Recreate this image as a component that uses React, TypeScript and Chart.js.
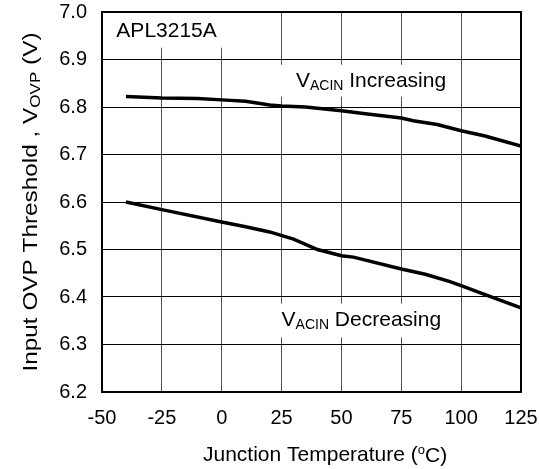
import React, { useEffect, useRef } from "react";
import { Chart, registerables } from "chart.js";

Chart.register(...registerables);

const FONT = "'Liberation Sans', Arial, Helvetica, sans-serif";

const xMin = -50;
const xMax = 125;
const xStep = 25;
const yMin = 6.2;
const yMax = 7.0;
const yStep = 0.1;

const incTemps = [-40, -25, -10, 0, 10, 20, 25, 35, 50, 60, 75, 80, 90, 100, 110, 125];
const incValues = [6.822, 6.819, 6.818, 6.815, 6.812, 6.804, 6.802, 6.8, 6.792, 6.786, 6.777, 6.771, 6.763, 6.75, 6.739, 6.718];

const decTemps = [-40, -25, 0, 10, 20, 30, 40, 50, 55, 75, 85, 95, 100, 110, 125];
const decValues = [6.6, 6.584, 6.558, 6.548, 6.537, 6.522, 6.5, 6.487, 6.484, 6.459, 6.448, 6.433, 6.424, 6.405, 6.377];

const partLabel = "APL3215A";
const incLabel = ["V", "ACIN", " Increasing"];
const decLabel = ["V", "ACIN", " Decreasing"];
const xTitle = ["Junction Temperature (", "o", "C)"];
const yTitle = ["Input OVP Threshold , V", "OVP", " (V)"];

function drawSubText(ctx: CanvasRenderingContext2D, parts: string[], x: number, y: number, big: number, small: number, subDy: number) {
  ctx.font = `${big}px ${FONT}`;
  ctx.fillText(parts[0], x, y);
  x += ctx.measureText(parts[0]).width;
  ctx.font = `${small}px ${FONT}`;
  ctx.fillText(parts[1], x, y + subDy);
  x += ctx.measureText(parts[1]).width;
  ctx.font = `${big}px ${FONT}`;
  ctx.fillText(parts[2], x, y);
}

function measureSub(ctx: CanvasRenderingContext2D, parts: string[], big: number, small: number) {
  ctx.font = `${big}px ${FONT}`;
  let w = ctx.measureText(parts[0]).width + ctx.measureText(parts[2]).width;
  ctx.font = `${small}px ${FONT}`;
  w += ctx.measureText(parts[1]).width;
  return w;
}

const overlayPlugin = {
  id: "overlay",
  beforeDatasetsDraw(chart: any) {
    const { ctx, scales } = chart;
    const x = scales.x;
    const y = scales.y;
    ctx.save();
    ctx.fillStyle = "#ffffff";
    const box = (x0: number, x1: number, y0: number, y1: number) => {
      const px0 = x.getPixelForValue(x0);
      const px1 = x.getPixelForValue(x1);
      const py0 = y.getPixelForValue(y0);
      const py1 = y.getPixelForValue(y1);
      ctx.fillRect(px0, py0, px1 - px0, py1 - py0);
    };
    box(-50, 1, 7.0, 6.925);
    box(24, 99, 6.889, 6.822);
    box(23.5, 97, 6.386, 6.315);

    ctx.fillStyle = "#000";
    ctx.textAlign = "left";
    ctx.textBaseline = "alphabetic";
    ctx.font = `21px ${FONT}`;
    ctx.fillText(partLabel, x.getPixelForValue(-44), y.getPixelForValue(6.948));
    drawSubText(ctx, incLabel, x.getPixelForValue(31), y.getPixelForValue(6.843), 21, 14, 3);
    drawSubText(ctx, decLabel, x.getPixelForValue(25), y.getPixelForValue(6.338), 21, 14, 3);
    ctx.restore();
  },
  afterDraw(chart: any) {
    const { ctx, chartArea } = chart;
    ctx.save();
    ctx.strokeStyle = "#000";
    ctx.lineWidth = 2;
    ctx.strokeRect(chartArea.left, chartArea.top, chartArea.right - chartArea.left, chartArea.bottom - chartArea.top);

    ctx.fillStyle = "#000";
    ctx.textAlign = "left";
    ctx.textBaseline = "alphabetic";
    // x title
    ctx.font = `21px ${FONT}`;
    let tx = 203;
    const ty = 461;
    ctx.fillText(xTitle[0], tx, ty);
    tx += ctx.measureText(xTitle[0]).width;
    ctx.font = `13px ${FONT}`;
    ctx.fillText(xTitle[1], tx, ty - 7);
    tx += ctx.measureText(xTitle[1]).width;
    ctx.font = `21px ${FONT}`;
    ctx.fillText(xTitle[2], tx, ty + 1);

    // y title (stretched along its length like the reference)
    const cy = (chartArea.top + chartArea.bottom) / 2;
    const w = measureSub(ctx, yTitle, 20, 14);
    const stretch = 339 / w;
    ctx.translate(37, cy);
    ctx.rotate(-Math.PI / 2);
    ctx.scale(stretch, 1);
    drawSubText(ctx, yTitle, -w / 2, 0, 20, 14, 3);
    ctx.restore();
  },
};

export default function App() {
  const ref = useRef<HTMLCanvasElement | null>(null);
  useEffect(() => {
    if (!ref.current) return;
    const chart = new Chart(ref.current, {
      type: "line",
      data: {
        datasets: [
          {
            label: "VACIN Increasing",
            data: incTemps.map((t, i) => ({ x: t, y: incValues[i] })),
            borderColor: "#000",
            borderWidth: 3.5,
            pointRadius: 0,
            tension: 0,
            fill: false,
          },
          {
            label: "VACIN Decreasing",
            data: decTemps.map((t, i) => ({ x: t, y: decValues[i] })),
            borderColor: "#000",
            borderWidth: 3.5,
            pointRadius: 0,
            tension: 0,
            fill: false,
          },
        ],
      },
      options: {
        animation: false,
        responsive: true,
        maintainAspectRatio: false,
        layout: { padding: { top: 12, right: 18, left: 0, bottom: 0 } },
        plugins: { legend: { display: false }, tooltip: { enabled: false }, title: { display: false } },
        scales: {
          x: {
            type: "linear",
            min: xMin,
            max: xMax,
            ticks: { stepSize: xStep, color: "#000", font: { family: FONT, size: 20 }, padding: 14, maxRotation: 0 },
            grid: { color: "#555", lineWidth: 1, drawTicks: false },
            border: { display: false },
            afterFit: (s: any) => {
              s.height = 77;
              s.paddingLeft = 0;
              s.paddingRight = 0;
              s.paddingTop = 0;
              s.paddingBottom = 0;
            },
          },
          y: {
            type: "linear",
            min: yMin,
            max: yMax,
            ticks: {
              stepSize: yStep,
              color: "#000",
              font: { family: FONT, size: 20 },
              padding: 15,
              callback: (v: any) => Number(v).toFixed(1),
            },
            grid: { color: "#000", lineWidth: 1, drawTicks: false },
            border: { display: false },
            afterFit: (s: any) => {
              s.width = 102;
              s.paddingLeft = 0;
              s.paddingRight = 0;
              s.paddingTop = 0;
              s.paddingBottom = 0;
            },
          },
        },
      },
      plugins: [overlayPlugin],
    });
    return () => chart.destroy();
  }, []);
  return (
    <div style={{ position: "absolute", left: 0, top: 0, width: 539, height: 469, background: "#fff" }}>
      <canvas ref={ref} />
    </div>
  );
}
